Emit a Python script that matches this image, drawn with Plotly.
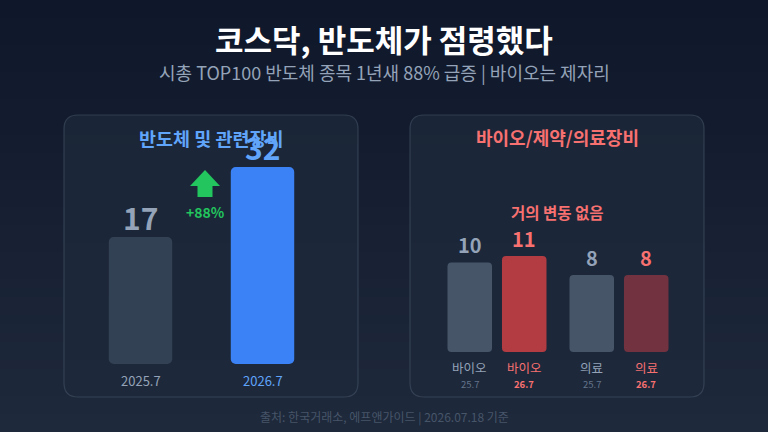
import plotly.graph_objects as go

# ---------------- data ----------------
semi_periods = ["2025.7", "2026.7"]
semi_counts = [17, 32]
semi_change = "+88%"

bio_groups = ["바이오", "의료"]
bio_2025 = [10, 8]
bio_2026 = [11, 8]
bio_period_labels = ["25.7", "26.7"]

title = "코스닥, 반도체가 점령했다"
subtitle = "시총 TOP100 반도체 종목 1년새 88% 급증 | 바이오는 제자리"
left_title = "반도체 및 관련장비"
right_title = "바이오/제약/의료장비"
right_note = "거의 변동 없음"
footer = "출처: 한국거래소, 에프앤가이드 | 2026.07.18 기준"

W, H = 768, 432
FONT = "Noto Sans CJK KR"

def px(x):
    return x / W

def py(y):
    return 1 - y / H

def rrect(x0, y0, x1, y1, r):
    X = lambda v: px(v)
    Y = lambda v: py(v)
    return (f"M {X(x0+r)},{Y(y0)} L {X(x1-r)},{Y(y0)} Q {X(x1)},{Y(y0)} {X(x1)},{Y(y0+r)} "
            f"L {X(x1)},{Y(y1-r)} Q {X(x1)},{Y(y1)} {X(x1-r)},{Y(y1)} "
            f"L {X(x0+r)},{Y(y1)} Q {X(x0)},{Y(y1)} {X(x0)},{Y(y1-r)} "
            f"L {X(x0)},{Y(y0+r)} Q {X(x0)},{Y(y0)} {X(x0+r)},{Y(y0)} Z")

shapes = []
top = (15, 23, 42)
bot = (30, 41, 59)
N = 48
for i in range(N):
    t = i / (N - 1)
    c = tuple(round(top[k] + (bot[k] - top[k]) * t) for k in range(3))
    shapes.append(dict(type="rect", xref="paper", yref="paper", layer="below",
                       x0=0, x1=1, y0=1 - (i + 1) / N - 0.002, y1=1 - i / N,
                       fillcolor=f"rgb{c}", line=dict(width=0)))
for (x0, x1) in [(64, 358), (410, 704)]:
    shapes.append(dict(type="path", xref="paper", yref="paper", layer="below",
                       path=rrect(x0, 115, x1, 397, 14),
                       fillcolor="rgba(30,41,59,0.75)",
                       line=dict(color="rgba(71,85,105,0.55)", width=1.2)))
ax = [(205, 170), (220, 186), (212.5, 186), (212.5, 197), (197.5, 197), (197.5, 186), (190, 186)]
path = "M " + " L ".join(f"{px(a)},{py(b)}" for a, b in ax) + " Z"
shapes.append(dict(type="path", xref="paper", yref="paper", path=path,
                   fillcolor="#22c55e", line=dict(width=0)))

L_MIN, L_MAX = -10.2, 43.16
R_MIN, R_MAX = -4.15, 33.3

fig = go.Figure()
fig.add_trace(go.Bar(x=semi_periods, y=[v - L_MIN for v in semi_counts], base=L_MIN,
                     width=0.52, marker=dict(color=["#334155", "#3b82f6"], cornerradius=5,
                                             line=dict(width=0)),
                     xaxis="x", yaxis="y", hoverinfo="skip"))
fig.add_trace(go.Bar(x=bio_groups, y=[v - R_MIN for v in bio_2025], base=R_MIN,
                     marker=dict(color="#475569", cornerradius=4, line=dict(width=0)),
                     xaxis="x2", yaxis="y2", hoverinfo="skip"))
fig.add_trace(go.Bar(x=bio_groups, y=[v - R_MIN for v in bio_2026], base=R_MIN,
                     marker=dict(color=["#b33c43", "#73323f"], cornerradius=4, line=dict(width=0)),
                     xaxis="x2", yaxis="y2", hoverinfo="skip"))

ann = []
def A(text, x, y, size, color, bold=False, xref="paper", yref="paper", yanchor="middle", yshift=0, xshift=0, family=FONT):
    t = f"<b>{text}</b>" if bold else text
    ann.append(dict(text=t, x=x, y=y, xref=xref, yref=yref, showarrow=False,
                    xanchor="center", yanchor=yanchor, yshift=yshift, xshift=xshift,
                    font=dict(family=family, size=size, color=color)))

A(title, 0.5, py(38), 31, "#ffffff", bold=True)
A(subtitle, 0.5, py(72), 18, "#94a3b8")
A(footer, 0.5, py(417), 12, "#475569")
A(left_title, px(211), py(138), 18.5, "#60a5fa", bold=True)
A(right_title, px(557), py(137), 18, "#f87171", bold=True)
A(right_note, px(557), py(212), 15.5, "#f87171", bold=True)
A(semi_change, px(205), py(212), 14, "#22c55e", bold=True)

lcol = ["#94a3b8", "#60a5fa"]
for i, (p, v) in enumerate(zip(semi_periods, semi_counts)):
    A(str(v), i, v, 30, lcol[i], bold=True, xref="x", yref="y", yanchor="bottom", yshift=-4)
    A(p, i, L_MIN, 13, lcol[i], xref="x", yref="y", yanchor="top", yshift=-5)

for j, (vals, col, sub, xs) in enumerate([(bio_2025, "#94a3b8", "#64748b", -27.2),
                                          (bio_2026, "#f87171", "#f87171", 27.2)]):
    for gi, (g, v) in enumerate(zip(bio_groups, vals)):
        A(str(v), gi, v, 20, col, bold=True, xref="x2", yref="y2", yanchor="bottom", yshift=1, xshift=xs)
        A(g, gi, R_MIN, 12.5, col, xref="x2", yref="y2", yanchor="top", yshift=-4, xshift=xs)
        A(bio_period_labels[j], gi, R_MIN, 9.5, sub, bold=(j == 1), xref="x2", yref="y2",
          yanchor="top", yshift=-23, xshift=xs)

axis_common = dict(showgrid=False, zeroline=False, showticklabels=False, showline=False,
                   fixedrange=True)
fig.update_layout(
    width=W, height=H, margin=dict(l=0, r=0, t=0, b=0),
    paper_bgcolor="#0f172a", plot_bgcolor="rgba(0,0,0,0)",
    showlegend=False, barmode="group", bargap=0.107, bargroupgap=0.183,
    shapes=shapes, annotations=ann,
    xaxis=dict(type="category", domain=[px(79.5), px(323.5)], range=[-0.5, 1.5], **axis_common),
    yaxis=dict(domain=[py(364), py(115)], range=[L_MIN, L_MAX], **axis_common),
    xaxis2=dict(type="category", domain=[px(436), px(680)], range=[-0.5, 1.5], anchor="y2", **axis_common),
    yaxis2=dict(domain=[py(352), py(115)], range=[R_MIN, R_MAX], anchor="x2", **axis_common),
    font=dict(family=FONT),
)
fig.write_html("out.html")
